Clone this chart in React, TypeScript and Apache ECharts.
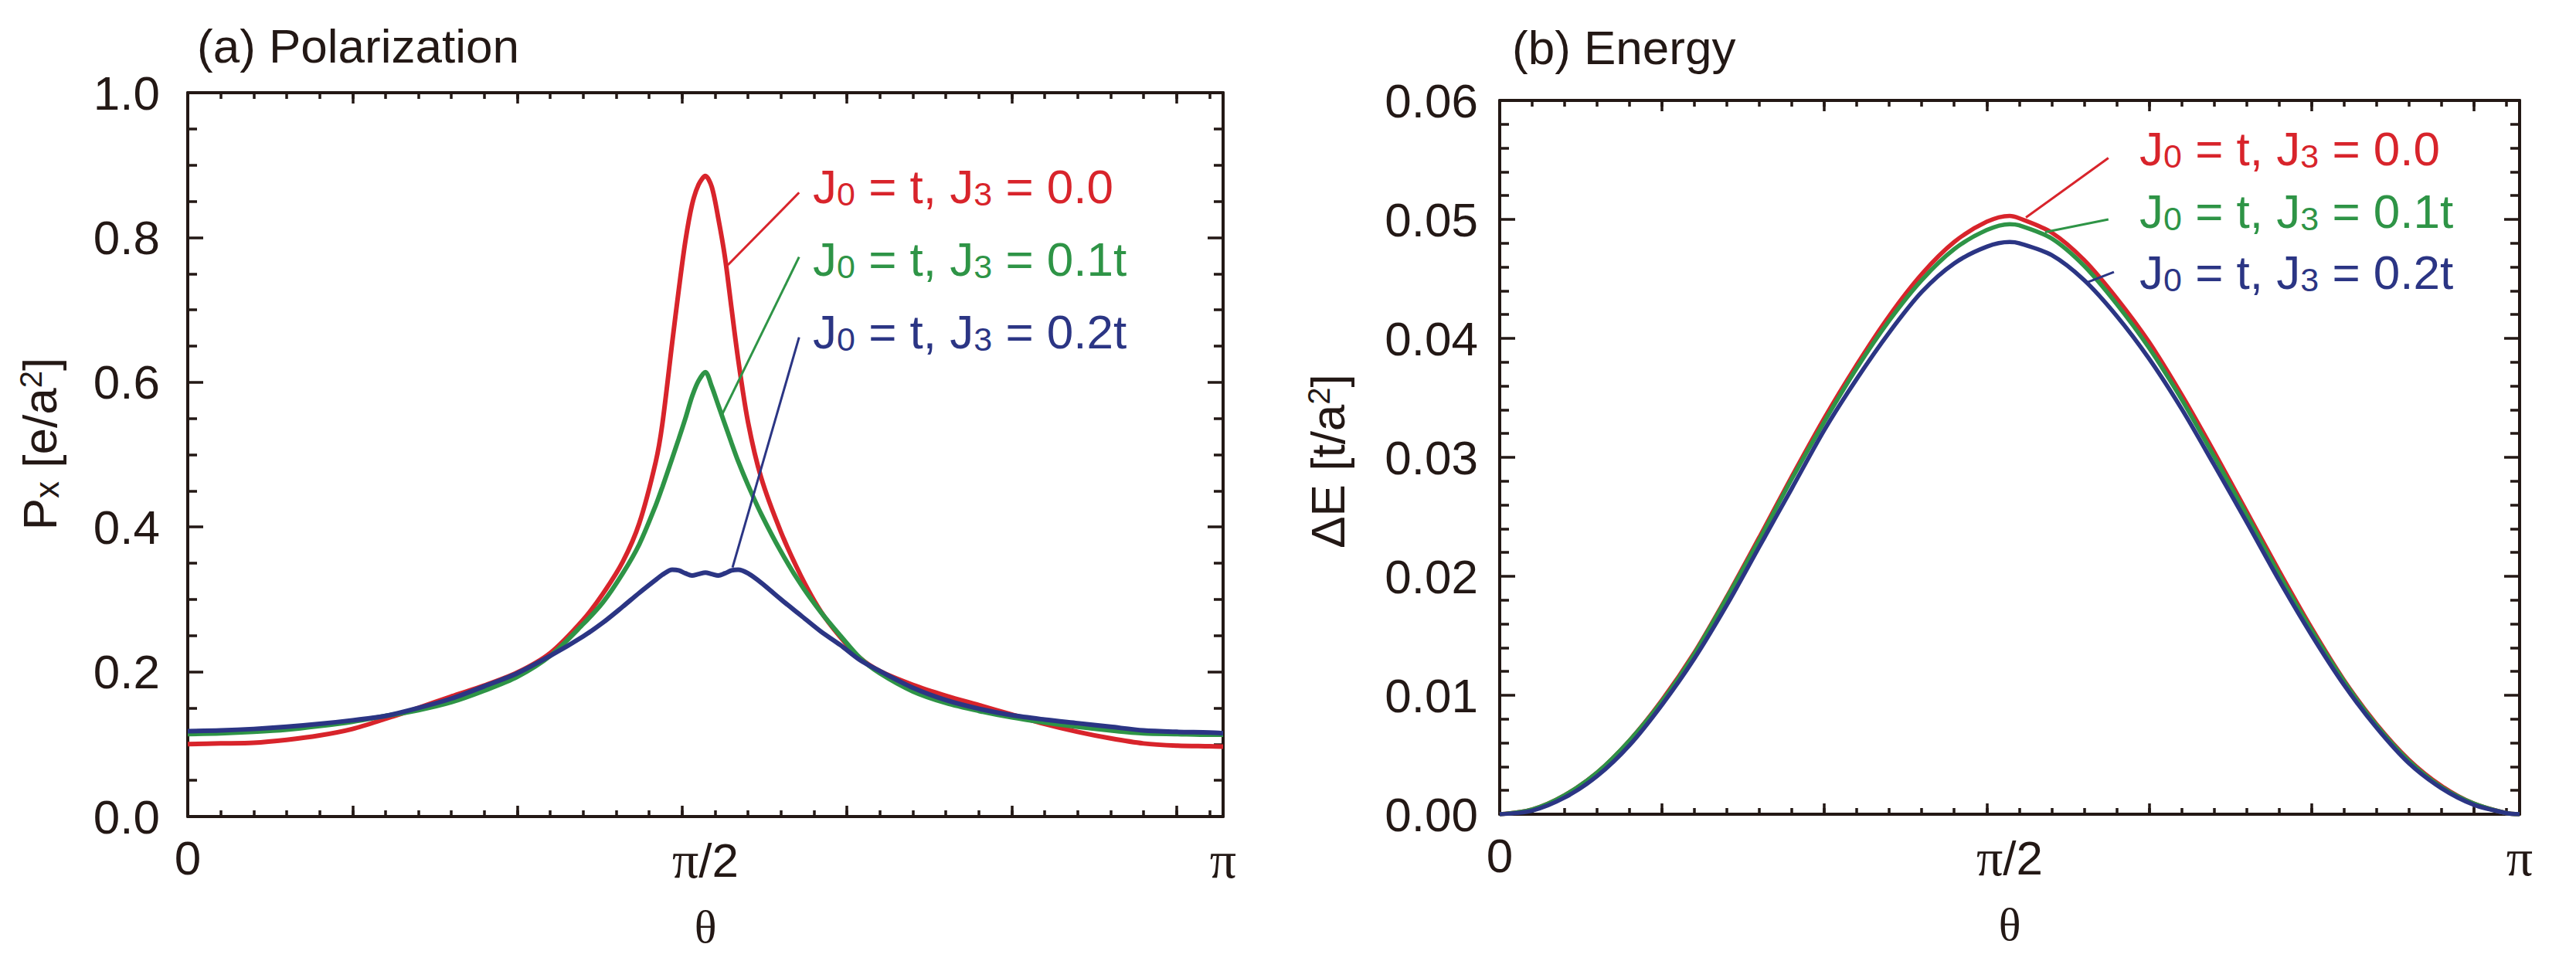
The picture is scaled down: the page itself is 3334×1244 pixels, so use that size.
import React, { useEffect, useRef } from "react";
import * as echarts from "echarts";

const PI = Math.PI;
const INK = "#231815";
const SANS = "'Liberation Sans', Arial, Helvetica, sans-serif";
const SERIF = "'Liberation Serif', 'Times New Roman', serif";

// series identity
const seriesNames = ["J0 = t, J3 = 0.0", "J0 = t, J3 = 0.1t", "J0 = t, J3 = 0.2t"];
const seriesLabels = ["J{s|0} = t, J{s|3} = 0.0", "J{s|0} = t, J{s|3} = 0.1t", "J{s|0} = t, J{s|3} = 0.2t"];
const seriesColors = ["#D8242B", "#2E9446", "#2B3584"];

// (a) Polarization  P_x [e/a^2] vs theta
const thetaP = [0, 0.1, 0.2, 0.3, 0.4, 0.5, 0.6, 0.7, 0.8, 0.9, 1.0, 1.1, 1.2, 1.26, 1.32, 1.37, 1.42, 1.44, 1.47, 1.49, 1.51, 1.53, 1.55, 1.5708, 1.59, 1.61, 1.63, 1.65, 1.67, 1.7, 1.74, 1.8, 1.86, 1.92, 1.98, 2.04, 2.1, 2.2, 2.3, 2.4, 2.5, 2.6, 2.7, 2.8, 2.9, 3.0, 3.1, 3.1416];
const polJ3_00 = [0.1, 0.101, 0.102, 0.106, 0.112, 0.121, 0.135, 0.15, 0.166, 0.181, 0.199, 0.226, 0.272, 0.308, 0.352, 0.405, 0.49, 0.542, 0.655, 0.728, 0.795, 0.845, 0.873, 0.885, 0.87, 0.826, 0.773, 0.702, 0.632, 0.545, 0.468, 0.393, 0.333, 0.284, 0.248, 0.219, 0.201, 0.182, 0.167, 0.154, 0.141, 0.128, 0.117, 0.108, 0.101, 0.098, 0.097, 0.0965];
const polJ3_01 = [0.114, 0.115, 0.117, 0.12, 0.125, 0.131, 0.139, 0.147, 0.158, 0.174, 0.193, 0.222, 0.266, 0.296, 0.336, 0.376, 0.43, 0.455, 0.495, 0.522, 0.55, 0.58, 0.602, 0.614, 0.594, 0.568, 0.542, 0.516, 0.491, 0.458, 0.418, 0.366, 0.321, 0.283, 0.25, 0.219, 0.198, 0.173, 0.157, 0.146, 0.137, 0.13, 0.124, 0.119, 0.115, 0.114, 0.113, 0.113];
const polJ3_02 = [0.118, 0.119, 0.121, 0.124, 0.128, 0.133, 0.139, 0.15, 0.163, 0.18, 0.198, 0.222, 0.249, 0.268, 0.29, 0.309, 0.327, 0.334, 0.341, 0.34, 0.336, 0.333, 0.335, 0.337, 0.335, 0.333, 0.336, 0.34, 0.341, 0.336, 0.323, 0.3, 0.278, 0.256, 0.237, 0.216, 0.201, 0.178, 0.161, 0.149, 0.14, 0.134, 0.129, 0.124, 0.119, 0.117, 0.116, 0.115];

// (b) Energy  dE [t/a^2] vs theta
const thetaE = [0, 0.1, 0.2, 0.3, 0.4, 0.5, 0.6, 0.7, 0.8, 0.9, 1.0, 1.1, 1.2, 1.3, 1.4, 1.5, 1.5708, 1.6, 1.7, 1.8, 1.9, 2.0, 2.1, 2.2, 2.3, 2.4, 2.5, 2.6, 2.7, 2.8, 2.9, 3.0, 3.1, 3.1416];
const enJ3_00 = [0, 0.0004, 0.0016, 0.0035, 0.0062, 0.0096, 0.0136, 0.0183, 0.0233, 0.0284, 0.0333, 0.0378, 0.0419, 0.0454, 0.0481, 0.0498, 0.0503, 0.0501, 0.0489, 0.0466, 0.0434, 0.0397, 0.0353, 0.0305, 0.0255, 0.0205, 0.0157, 0.0113, 0.0076, 0.0046, 0.0024, 0.0009, 0.0001, 0];
const enJ3_01 = [0, 0.0004, 0.0016, 0.0035, 0.0062, 0.0095, 0.0135, 0.0182, 0.0231, 0.0282, 0.033, 0.0375, 0.0415, 0.0449, 0.0475, 0.0491, 0.0496, 0.0495, 0.0484, 0.0461, 0.0429, 0.0392, 0.0349, 0.0301, 0.0252, 0.0202, 0.0155, 0.0112, 0.0075, 0.0045, 0.0023, 0.0009, 0.0001, 0];
const enJ3_02 = [0, 0.0003, 0.0014, 0.0032, 0.0058, 0.0092, 0.0131, 0.0176, 0.0225, 0.0274, 0.0323, 0.0366, 0.0405, 0.0439, 0.0463, 0.0477, 0.0481, 0.048, 0.047, 0.0449, 0.0419, 0.0383, 0.0341, 0.0294, 0.0246, 0.0197, 0.0151, 0.0109, 0.0073, 0.0043, 0.0022, 0.0008, 0.0001, 0];

// ticks and labels
const xMajorStep = 0.5;
const xMinorStep = 0.1;
const xLabelTexts = ["0", "{pi|π}/2", "{pi|π}"]; // at 0, π/2, π
const polYStep = 0.2;
const enYStep = 0.01;

// leader lines (data coordinates: [theta, value] start -> end)
const leadersP = [
  [[1.855, 0.862], [1.639, 0.762]],
  [[1.855, 0.773], [1.622, 0.556]],
  [[1.855, 0.662], [1.653, 0.344]],
];
const leadersE = [
  [[1.875, 0.05516], [1.621, 0.05016]],
  [[1.875, 0.05], [1.68, 0.04893]],
  [[1.892, 0.04558], [1.809, 0.0447]],
];

const zip = (t: number[], v: number[]) => t.map((x, i) => [x, v[i]]);

function buildOption() {
  const axisLineStyle = { color: INK, width: 4 };
  const tickLineStyle = { color: INK, width: 3.5 };

  const tickAxis = (gridIndex: number, position: string, interval: number, length: number, showLine: boolean) => ({
    type: "value",
    gridIndex,
    position,
    min: 0,
    max: PI,
    interval,
    axisLine: { show: showLine, onZero: false, lineStyle: axisLineStyle },
    axisTick: { show: true, inside: true, length, lineStyle: tickLineStyle },
    axisLabel: { show: false },
    splitLine: { show: false },
  });

  const labelAxis = (gridIndex: number) => ({
    type: "value",
    gridIndex,
    position: "bottom",
    min: 0,
    max: 2,
    interval: 1,
    axisLine: { show: false, onZero: false },
    axisTick: { show: false },
    splitLine: { show: false },
    axisLabel: {
      show: true,
      margin: 22,
      fontSize: 62,
      fontFamily: SANS,
      color: INK,
      formatter: (v: number) => xLabelTexts[Math.round(v)],
      rich: { pi: { fontFamily: SERIF, fontSize: 68, color: INK } },
    },
    name: "θ",
    nameLocation: "middle",
    nameGap: 113,
    nameTextStyle: { fontFamily: SERIF, fontSize: 60, color: INK },
  });

  const xAxes: any[] = [];
  [0, 1].forEach((g) => {
    xAxes.push(tickAxis(g, "bottom", xMajorStep, 14, true));
    xAxes.push(tickAxis(g, "bottom", xMinorStep, 8, false));
    xAxes.push(tickAxis(g, "top", xMajorStep, 14, true));
    xAxes.push(tickAxis(g, "top", xMinorStep, 8, false));
    xAxes.push(labelAxis(g));
  });

  const nameRich = {
    sub: { fontSize: 44, lineHeight: 30, verticalAlign: "bottom", fontFamily: SANS, color: INK },
    sup: { fontSize: 40, lineHeight: 34, verticalAlign: "top", fontFamily: SANS, color: INK },
  };

  const yLeft = (g: number, max: number, interval: number, split: number, decimals: number, margin: number, name: string, nameGap: number, padding: number[]) => ({
    type: "value",
    gridIndex: g,
    position: "left",
    min: 0,
    max,
    interval,
    axisLine: { show: true, onZero: false, lineStyle: axisLineStyle },
    axisTick: { show: true, inside: true, length: 20, lineStyle: tickLineStyle },
    minorTick: { show: true, splitNumber: split, length: 12, lineStyle: tickLineStyle },
    splitLine: { show: false },
    minorSplitLine: { show: false },
    axisLabel: {
      show: true,
      margin,
      fontSize: 62,
      fontFamily: SANS,
      color: INK,
      formatter: (v: number) => v.toFixed(decimals),
    },
    name,
    nameLocation: "middle",
    nameRotate: 90,
    nameGap,
    nameTextStyle: { fontSize: 62, lineHeight: 62, fontFamily: SANS, color: INK, padding, rich: nameRich },
  });

  const yRight = (g: number, max: number, interval: number, split: number) => ({
    type: "value",
    gridIndex: g,
    position: "right",
    min: 0,
    max,
    interval,
    axisLine: { show: true, onZero: false, lineStyle: axisLineStyle },
    axisTick: { show: true, inside: true, length: 20, lineStyle: tickLineStyle },
    minorTick: { show: true, splitNumber: split, length: 12, lineStyle: tickLineStyle },
    splitLine: { show: false },
    minorSplitLine: { show: false },
    axisLabel: { show: false },
  });

  const yAxes = [
    yLeft(0, 1.0, polYStep, 4, 1, 36, "P{sub|x} [e/a{sup|2}]", 161, [0, 0, 0, 28]),
    yRight(0, 1.0, polYStep, 4),
    yLeft(1, 0.06, enYStep, 5, 2, 28, "ΔE [t/a{sup|2}]", 192, [0, 10, 0, 0]),
    yRight(1, 0.06, enYStep, 5),
  ];

  const makeSeries = (theta: number[], valuesList: number[][], xIdx: number, yIdx: number, leaders: number[][][], width: number) =>
    valuesList.map((vals, i) => ({
      type: "line",
      name: seriesNames[i],
      xAxisIndex: xIdx,
      yAxisIndex: yIdx,
      data: zip(theta, vals),
      showSymbol: false,
      symbol: "none",
      smooth: 0.3,
      z: 2 + i,
      lineStyle: { color: seriesColors[i], width },
      itemStyle: { color: seriesColors[i] },
      markLine: {
        silent: true,
        symbol: ["none", "none"],
        label: { show: false },
        lineStyle: { color: seriesColors[i], width: 3, type: "solid" },
        data: [[{ coord: leaders[i][0] }, { coord: leaders[i][1] }]],
      },
    }));

  const series = [
    ...makeSeries(thetaP, [polJ3_00, polJ3_01, polJ3_02], 0, 0, leadersP, 6),
    ...makeSeries(thetaE, [enJ3_00, enJ3_01, enJ3_02], 5, 2, leadersE, 5.5),
  ];

  const legendText = (x: number, y: number, i: number) => ({
    type: "text",
    x,
    y,
    style: {
      text: seriesLabels[i],
      fill: seriesColors[i],
      fontSize: 62,
      fontFamily: SANS,
      lineHeight: 62,
      verticalAlign: "middle",
      align: "left",
      rich: {
        s: { fontSize: 43, lineHeight: 48, verticalAlign: "bottom", fill: seriesColors[i], fontFamily: SANS },
      },
    },
  });

  const graphic = [
    legendText(1052, 241, 0),
    legendText(1052, 335, 1),
    legendText(1052, 429, 2),
    legendText(2769, 192, 0),
    legendText(2769, 273, 1),
    legendText(2769, 352, 2),
  ];

  const titleStyle = { fontSize: 62, fontWeight: "normal", fontFamily: SANS, color: INK };

  return {
    animation: false,
    backgroundColor: "#ffffff",
    title: [
      { text: "(a) Polarization", left: 255, top: 28, padding: 0, textStyle: titleStyle },
      { text: "(b) Energy", left: 1957, top: 30, padding: 0, textStyle: titleStyle },
    ],
    grid: [
      { left: 243, top: 120, width: 1340, height: 937, containLabel: false, outerBoundsMode: "none" },
      { left: 1941, top: 130, width: 1320, height: 924, containLabel: false, outerBoundsMode: "none" },
    ],
    xAxis: xAxes,
    yAxis: yAxes,
    series,
    graphic,
  };
}

export default function App() {
  const ref = useRef<HTMLDivElement>(null);
  useEffect(() => {
    if (!ref.current) return;
    const chart = echarts.init(ref.current, undefined, { renderer: "svg" });
    chart.setOption(buildOption() as any);
    return () => chart.dispose();
  }, []);
  return (
    <div
      ref={ref}
      style={{ position: "absolute", left: 0, top: 0, width: 3334, height: 1244, background: "#fff" }}
    />
  );
}
